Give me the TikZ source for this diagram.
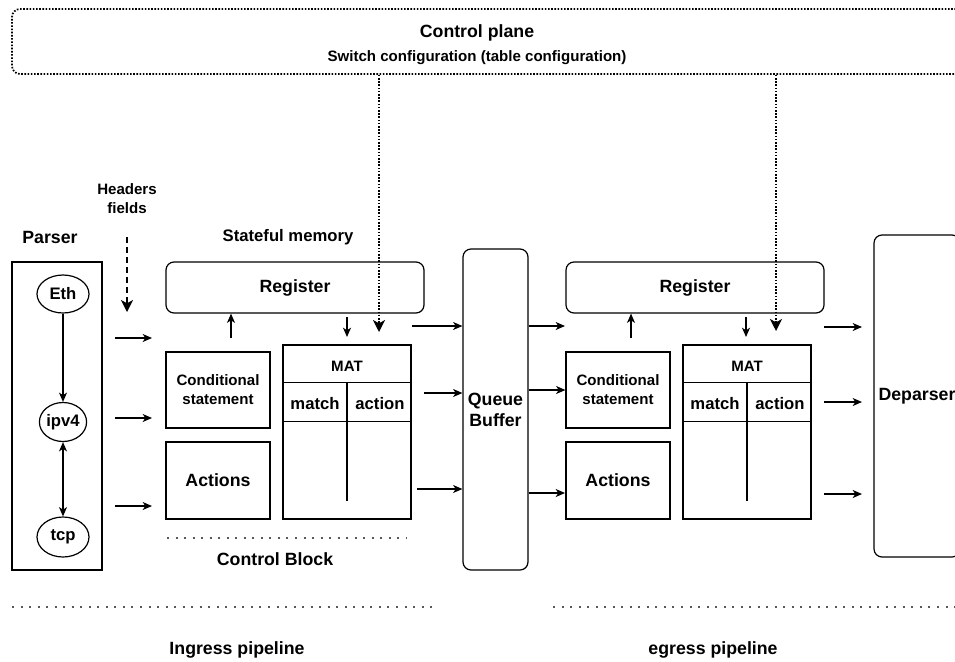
\documentclass[tikz,border=0pt]{standalone}
\usepackage{fontspec}
\setmainfont{Liberation Sans}
\usetikzlibrary{arrows.meta}
\usetikzlibrary{shapes}

\tikzset{
  txt/.style={font=\fontsize{13.3}{15.75}\selectfont\bfseries, align=center, inner sep=0pt},
  midtxt/.style={font=\fontsize{12.5}{15}\selectfont\bfseries, align=center, inner sep=0pt},
  smalltxt/.style={font=\fontsize{11.3}{14.25}\selectfont\bfseries, align=center, inner sep=0pt},
  box/.style={draw, line width=0.9pt, rectangle, inner sep=0pt},
  rbox/.style={box, rounded corners=6pt},
  arr/.style={line width=0.9pt, -{Stealth[length=7pt,width=6pt,inset=2pt]}},
  dblarr/.style={line width=0.9pt, {Stealth[length=7pt,width=6pt,inset=2pt]}-{Stealth[length=7pt,width=6pt,inset=2pt]}},
  cfgarr/.style={line width=1.3pt, dash pattern=on 1.2pt off 1.2pt, -{Stealth[length=9pt,width=9pt,inset=2.5pt]}},
  hdrarr/.style={line width=1.2pt, dash pattern=on 4.5pt off 3pt, -{Stealth[length=9pt,width=9pt,inset=2.5pt]}},
  cpbox/.style={draw, line width=1.3pt, dash pattern=on 1.2pt off 1.2pt, rounded corners=6pt, inner sep=0pt},
  sparse/.style={line width=1.5pt, gray!70!black, dash pattern=on 1.5pt off 4.9pt},
  tbl/.style={line width=0.9pt}
}

\begin{document}
\begin{tikzpicture}[x=0.75pt,y=0.75pt,yscale=-1,xscale=1]
\useasboundingbox (0,0) rectangle (955,661);

%Shape: Rounded Rect (control plane)
\node[cpbox, minimum width=726pt, minimum height=48.75pt] (cplane) at (496,41.5) {};
\node[txt] (cptitle) at (477,33) {Control plane};
\node[smalltxt] (cpsub) at (477,58) {Switch configuration (table configuration)};

%Parser
\node[txt] (parserlbl) at (50,237) {Parser};
\node[box, minimum width=67.5pt, minimum height=231pt] (parser) at (57,416) {};
\node[draw, line width=0.9pt, ellipse, midtxt, minimum width=39pt, minimum height=28.5pt] (eth) at (63,294) {Eth};
\node[draw, line width=0.9pt, ellipse, midtxt, minimum width=35pt, minimum height=29.25pt] (ipv4) at (63,422) {ipv4};
\node[draw, line width=0.9pt, ellipse, midtxt, minimum width=39pt, minimum height=30pt] (tcp) at (63,537) {tcp};
\draw[arr] (eth) -- (ipv4);
\draw[dblarr] (ipv4) -- (tcp);

%Headers fields
\node[smalltxt] (hfields) at (127,198.5) {Headers\\fields};
\coordinate (hfa) at (127,237);
\coordinate (hfb) at (127,312);
\draw[hdrarr] (hfa) -- (hfb);

%Parser to control block
\coordinate (pa1) at (115,338);
\coordinate (pb1) at (152,338);
\coordinate (pa2) at (115,418);
\coordinate (pb2) at (152,418);
\coordinate (pa3) at (115,506);
\coordinate (pb3) at (152,506);
\draw[arr] (pa1) -- (pb1);
\draw[arr] (pa2) -- (pb2);
\draw[arr] (pa3) -- (pb3);

%Ingress control block
\node[txt, font=\fontsize{12.5}{15}\selectfont\bfseries] (smem) at (288,237) {Stateful memory};
\node[rbox, txt, minimum width=193.5pt, minimum height=38.25pt] (ireg) at (295,287.5) {Register};
\node[box, smalltxt, minimum width=78pt, minimum height=57pt] (icond) at (218,390) {Conditional\\statement};
\node[box, txt, minimum width=78pt, minimum height=57.75pt] (iact) at (218,480.5) {Actions};
\node[box, minimum width=96pt, minimum height=130.5pt] (imat) at (347,432) {};
\draw[tbl] ([yshift=28.5pt]imat.north west) -- ([yshift=28.5pt]imat.north east);
\draw[tbl] ([yshift=57.75pt]imat.north west) -- ([yshift=57.75pt]imat.north east);
\draw[tbl] ([yshift=28.5pt]imat.north) -- ([yshift=-14.25pt]imat.south);
\node[smalltxt] (imath) at (347,366) {MAT};
\node[midtxt] (imatm) at (315,404) {match};
\node[midtxt] (imata) at (380,404) {action};
\coordinate (iup) at (231,338);
\draw[arr] (iup) -- (iup |- ireg.south);
\coordinate (idn1) at (347,317);
\coordinate (idn2) at (347,337);
\draw[arr] (idn1) -- (idn2);
\coordinate (icfg) at (379,332);
\draw[cfgarr] (icfg |- cplane.south) -- (icfg);
\draw[sparse] (167,538) -- (407,538);
\node[txt] (cblock) at (275,559) {Control Block};

%Queue
\node[rbox, txt, minimum width=48.75pt, minimum height=240.75pt] (queue) at (495.5,409.5) {Queue\\Buffer};
\coordinate (iq1) at (412,326);
\coordinate (iq2) at (424,393);
\coordinate (iq3) at (417,489);
\draw[arr] (iq1) -- (iq1 -| queue.west);
\draw[arr] (iq2) -- (iq2 -| queue.west);
\draw[arr] (iq3) -- (iq3 -| queue.west);

%Egress control block
\node[rbox, txt, minimum width=193.5pt, minimum height=38.25pt] (ereg) at (695,287.5) {Register};
\node[box, smalltxt, minimum width=78pt, minimum height=57pt] (econd) at (618,390) {Conditional\\statement};
\node[box, txt, minimum width=78pt, minimum height=57.75pt] (eact) at (618,480.5) {Actions};
\node[box, minimum width=96pt, minimum height=130.5pt] (emat) at (747,432) {};
\draw[tbl] ([yshift=28.5pt]emat.north west) -- ([yshift=28.5pt]emat.north east);
\draw[tbl] ([yshift=57.75pt]emat.north west) -- ([yshift=57.75pt]emat.north east);
\draw[tbl] ([yshift=28.5pt]emat.north) -- ([yshift=-14.25pt]emat.south);
\node[smalltxt] (emath) at (747,366) {MAT};
\node[midtxt] (ematm) at (715,404) {match};
\node[midtxt] (emata) at (780,404) {action};
\coordinate (eup) at (631,338);
\draw[arr] (eup) -- (eup |- ereg.south);
\coordinate (edn1) at (746,317);
\coordinate (edn2) at (746,337);
\draw[arr] (edn1) -- (edn2);
\coordinate (ecfg) at (776,331);
\draw[cfgarr] (ecfg |- cplane.south) -- (ecfg);

%Queue to egress
\coordinate (eq1) at (565,326);
\coordinate (eq3) at (565,493);
\draw[arr] (eq1 -| queue.east) -- (eq1);
\draw[arr] (queue.east |- econd.west) -- (econd.west);
\draw[arr] (eq3 -| queue.east) -- (eq3);

%Deparser
\node[rbox, txt, minimum width=64.5pt, minimum height=241.5pt] (deparser) at (917,396) {Deparser};
\coordinate (da1) at (824,327);
\coordinate (db1) at (862,327);
\coordinate (da2) at (824,402);
\coordinate (db2) at (862,402);
\coordinate (da3) at (824,494);
\coordinate (db3) at (862,494);
\draw[arr] (da1) -- (db1);
\draw[arr] (da2) -- (db2);
\draw[arr] (da3) -- (db3);

%Pipelines
\draw[sparse] (12,607) -- (437,607);
\draw[sparse] (553,607) -- (955,607);
\node[txt] (ingress) at (237,650) {Ingress pipeline};
\node[txt] (egress) at (713,650) {egress pipeline};

\end{tikzpicture}
\end{document}
